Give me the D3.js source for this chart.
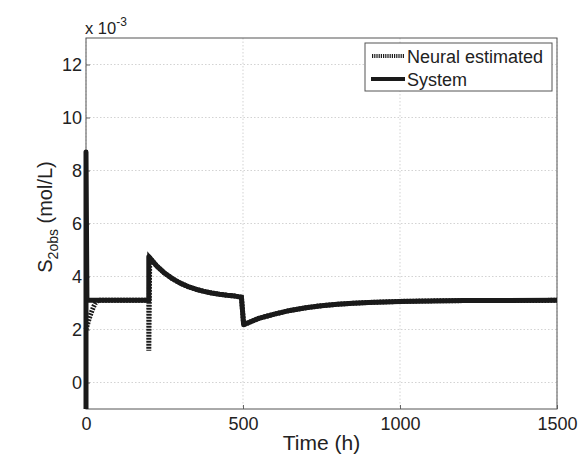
<!DOCTYPE html>
<html><head><meta charset="utf-8">
<script src="https://cdn.jsdelivr.net/npm/d3@7"></script>
<style>body{margin:0;background:#fff}svg{display:block}text{font-family:"Liberation Sans",Arial,sans-serif;fill:#222}</style>
</head><body>
<script>
const xTicks = [0, 500, 1000, 1500];
const yTicks = [0, 2, 4, 6, 8, 10, 12];
const systemT = [0, 0, 3, 200, 200, 225, 250, 275, 300, 325, 350, 375, 400, 425, 450, 475, 495, 502, 550, 600, 650, 700, 750, 800, 850, 900, 1000, 1100, 1200, 1500];
const systemY = [-1.5, 8.7, 3.1, 3.1, 4.75, 4.4, 4.13, 3.92, 3.75, 3.62, 3.52, 3.44, 3.38, 3.33, 3.29, 3.26, 3.22, 2.18, 2.42, 2.58, 2.72, 2.82, 2.9, 2.95, 2.99, 3.02, 3.06, 3.08, 3.09, 3.1];
const neuralT = [0, 5, 10, 15, 20, 25, 30, 38, 50, 200, 200, 203, 225, 250, 275, 300, 325, 350, 375, 400, 425, 450, 475, 495, 502, 550, 600, 650, 700, 750, 800, 850, 900, 1000, 1100, 1200, 1500];
const neuralY = [2.0, 2.2, 2.4, 2.58, 2.74, 2.88, 3.0, 3.1, 3.1, 3.1, 1.2, 4.7, 4.4, 4.13, 3.92, 3.75, 3.62, 3.52, 3.44, 3.38, 3.33, 3.29, 3.26, 3.22, 2.18, 2.42, 2.58, 2.72, 2.82, 2.9, 2.95, 2.99, 3.02, 3.06, 3.08, 3.09, 3.1];
const seriesNames = ["Neural estimated", "System"];

const W = 582, H = 457;
const m = {l: 86, r: 557, t: 38, b: 409};
const svg = d3.select("body").append("svg").attr("width", W).attr("height", H);
const x = d3.scaleLinear().domain([0, 1500]).range([m.l, m.r]);
const y = d3.scaleLinear().domain([-1, 13]).range([m.b, m.t]);

svg.append("defs").append("clipPath").attr("id", "clip")
  .append("rect").attr("x", m.l - 4).attr("y", m.t).attr("width", m.r - m.l + 4).attr("height", m.b - m.t);

// grid
const grid = svg.append("g");
xTicks.forEach(t => grid.append("line").attr("x1", x(t)).attr("x2", x(t)).attr("y1", m.t).attr("y2", m.b)
  .attr("stroke", "#c8c8c8").attr("stroke-width", 0.8).attr("stroke-dasharray", "1.5,2"));
yTicks.forEach(t => grid.append("line").attr("x1", m.l).attr("x2", m.r).attr("y1", y(t)).attr("y2", y(t))
  .attr("stroke", "#c8c8c8").attr("stroke-width", 0.8).attr("stroke-dasharray", "1.5,2"));

// axes
const xAxis = svg.append("g").attr("transform", `translate(0,${m.b})`)
  .call(d3.axisBottom(x).tickValues(xTicks).tickFormat(d3.format("d")).tickSizeInner(-4).tickSizeOuter(0).tickPadding(8));
const yAxis = svg.append("g").attr("transform", `translate(${m.l},0)`)
  .call(d3.axisLeft(y).tickValues(yTicks).tickFormat(d3.format("d")).tickSizeInner(-4).tickSizeOuter(0).tickPadding(4));
[xAxis, yAxis].forEach(a => {
  a.select(".domain").remove();
  a.selectAll("line").attr("stroke", "#666");
  a.selectAll("text").attr("font-size", 18).attr("fill", "#222").style("font-family", '"Liberation Sans",Arial,sans-serif');
});
xAxis.selectAll("text").attr("dy", "0.71em");
svg.append("rect").attr("x", m.l).attr("y", m.t).attr("width", m.r - m.l).attr("height", m.b - m.t)
  .attr("fill", "none").attr("stroke", "#555").attr("stroke-width", 1);

// lines
const line = d3.line().x(d => x(d[0])).y(d => y(d[1]));
const neural = neuralT.map((t, i) => [t, neuralY[i]]);
const system = systemT.map((t, i) => [t, systemY[i]]);
const plot = svg.append("g").attr("clip-path", "url(#clip)");
plot.append("path").datum(neural).attr("d", line).attr("fill", "none").attr("stroke", "#1a1a1a")
  .attr("stroke-width", 5).attr("stroke-dasharray", "1.8,1.2");
plot.append("path").datum(system).attr("d", line).attr("fill", "none").attr("stroke", "#1a1a1a")
  .attr("stroke-width", 5).attr("stroke-linejoin", "round");

// legend
const lg = svg.append("g");
lg.append("rect").attr("x", 365).attr("y", 43).attr("width", 187).attr("height", 48)
  .attr("fill", "#fff").attr("stroke", "#555").attr("stroke-width", 1);
lg.append("line").attr("x1", 372).attr("x2", 405).attr("y1", 56).attr("y2", 56)
  .attr("stroke", "#1a1a1a").attr("stroke-width", 4).attr("stroke-dasharray", "1.2,1");
lg.append("line").attr("x1", 371).attr("x2", 405).attr("y1", 79).attr("y2", 79)
  .attr("stroke", "#1a1a1a").attr("stroke-width", 4);
lg.append("text").attr("x", 407).attr("y", 62.5).attr("font-size", 18).text(seriesNames[0]);
lg.append("text").attr("x", 407).attr("y", 85.5).attr("font-size", 18).text(seriesNames[1]);

// multiplier
const mult = svg.append("text").attr("x", 85).attr("y", 34).attr("font-size", 16.5);
mult.append("tspan").text("x 10");
mult.append("tspan").attr("font-size", 12).attr("dy", -8).text("-3");

// axis labels
svg.append("text").attr("x", (m.l + m.r) / 2).attr("y", 450).attr("text-anchor", "middle")
  .attr("font-size", 21).text("Time (h)");
const yl = svg.append("text").attr("transform", `translate(52,217) rotate(-90)`)
  .attr("text-anchor", "middle").attr("font-size", 20);
yl.append("tspan").text("S");
yl.append("tspan").attr("font-size", 14).attr("dy", 6).text("2obs");
yl.append("tspan").attr("dy", -6).text(" (mol/L)");
</script>
</body></html>
